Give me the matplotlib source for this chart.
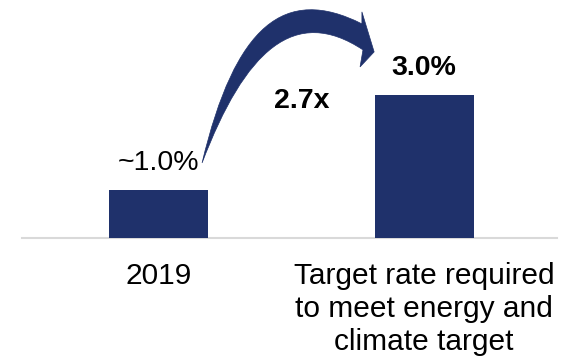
import matplotlib.pyplot as plt
from matplotlib.path import Path
from matplotlib.patches import PathPatch

# data
categories = ["2019", "Target rate required\nto meet energy and\nclimate target"]
values = [1.0, 3.0]
value_labels = ["~1.0%", "3.0%"]
growth_label = "2.7x"

navy = "#1f316b"
plt.rcParams["font.family"] = ["Liberation Sans", "DejaVu Sans"]
fs = 20.5

fig = plt.figure(figsize=(5.77, 3.56), dpi=100)
ax = fig.add_axes([0, 0, 1, 1])
for s in ax.spines.values():
    s.set_visible(False)
# tick labels hang from the zero line
ax.spines["bottom"].set_position(("data", 0))

x = list(range(len(categories)))
ax.bar(x, values, width=0.373, color=navy, zorder=2)

# baseline
ax.axhline(0, xmin=0.038, xmax=0.965, color="#d9d9d9", lw=1.5, zorder=1)

# value labels
ax.annotate(value_labels[0], xy=(x[0], values[0]), xytext=(0, 10),
            textcoords="offset points", ha="center", va="bottom",
            fontsize=fs)
ax.annotate(value_labels[1], xy=(x[1], values[1]), xytext=(0, 10),
            textcoords="offset points", ha="center", va="bottom",
            fontsize=fs, fontweight="bold")

# curved growth arrow from the first bar to the second
verts = [
    (0.164, 1.573),                              # tail
    (0.288, 4.468), (0.476, 5.307), (0.766, 4.489),  # outer edge
    (0.766, 4.741),                              # head top
    (0.812, 3.902),                              # head tip
    (0.759, 3.587),                              # head bottom
    (0.770, 3.944),                              # inner end
    (0.514, 4.888), (0.326, 3.944), (0.164, 1.573),  # inner edge back
    (0.164, 1.573),
]
codes = [Path.MOVETO,
         Path.CURVE4, Path.CURVE4, Path.CURVE4,
         Path.LINETO, Path.LINETO, Path.LINETO, Path.LINETO,
         Path.CURVE4, Path.CURVE4, Path.CURVE4,
         Path.CLOSEPOLY]
ax.add_patch(PathPatch(Path(verts, codes), facecolor=navy, edgecolor=navy,
                       lw=0.5, zorder=3))

ax.text(0.540, 2.87, growth_label, ha="center", va="center",
        fontsize=fs, fontweight="bold")

ax.set_xlim(-0.597, 1.576)
ax.set_ylim(-2.475, 4.99)
ax.set_xticks(x)
ax.set_xticklabels(categories, linespacing=1.22)
ax.tick_params(axis="x", length=0, pad=17.5, labelsize=21.5)
ax.set_yticks([])

fig.savefig("out.png", dpi=100)
